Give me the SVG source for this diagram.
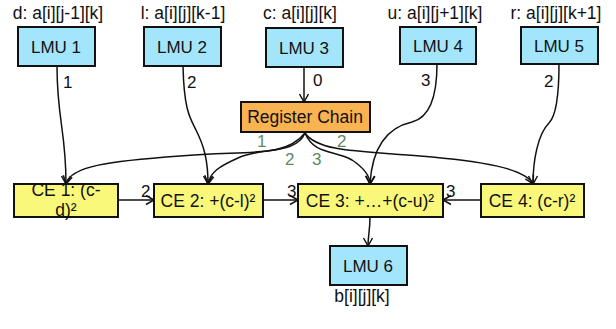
<svg xmlns="http://www.w3.org/2000/svg" width="616" height="329" viewBox="0 0 616 329">
<style>
text{font-family:"Liberation Sans",Arial,sans-serif;font-size:17px;fill:#111}
.lmu{fill:#A3E6FC;stroke:#111;stroke-width:2}
.ce{fill:#FAF87A;stroke:#111;stroke-width:2}
.reg{fill:#F9B451;stroke:#111;stroke-width:2}
.e{fill:none;stroke:#111;stroke-width:1.5;marker-end:url(#arr)}
.g{fill:#5E8A5E}
.m{text-anchor:middle}
.w{font-size:17.5px}
</style>
<defs>
<marker id="arr" markerWidth="12" markerHeight="12" refX="10" refY="6" orient="auto" markerUnits="userSpaceOnUse">
<path d="M2,1.5 L10,6 L2,10.5" fill="none" stroke="#111" stroke-width="1.5"/>
</marker>
</defs>
<rect width="616" height="329" fill="#fff"/>
<g id="connectors">
<path class="e" d="M57,66 C57,120 66,130 66,184"/>
<path class="e" d="M183,66 C184,110 190,118 196,130 C204,146 208,160 208,184"/>
<path class="e" d="M304,67 L304,102"/>
<path class="e" d="M437,64 C437,100 428,118 412,122 C385,128 372,150 370,184"/>
<path class="e" d="M559,64 C559,95 556,116 549,123 C538,134 533,160 533,184"/>
<path class="e" d="M305,133 C285,158 250,150 180,156 C110,161 70,166 66,184"/>
<path class="e" d="M305,133 C296,155 260,147 238,158 C220,166 210,172 208,184"/>
<path class="e" d="M305,133 C314,155 335,150 352,160 C364,168 370,175 370,184"/>
<path class="e" d="M305,133 C318,152 360,151 420,156 C480,161 525,168 533,184"/>
<path class="e" d="M118,200 L154,200"/>
<path class="e" d="M263,200 L298,200"/>
<path class="e" d="M481,200 L443,200"/>
<path class="e" d="M370,217 C370,230 368,236 368,246"/>
<text x="63" y="88">1</text>
<text x="187" y="88">2</text>
<text x="313" y="86">0</text>
<text x="421" y="86">3</text>
<text x="544" y="87">2</text>
<text class="g" x="257" y="147">1</text>
<text class="g" x="285" y="165">2</text>
<text class="g" x="312" y="165">3</text>
<text class="g" x="337" y="147">2</text>
<text x="141" y="197">2</text>
<text x="287" y="197">3</text>
<text x="446" y="197">3</text>
</g>
<g id="lmu1">
<text class="m w" x="58" y="19">d: a[i][j-1][k]</text>
<rect class="lmu" x="18" y="27" width="77" height="39"/>
<text class="m" x="56" y="53">LMU 1</text>
</g>
<g id="lmu2">
<text class="m w" x="183" y="19">l: a[i][j][k-1]</text>
<rect class="lmu" x="144" y="27" width="77" height="39"/>
<text class="m" x="182" y="53">LMU 2</text>
</g>
<g id="lmu3">
<text class="m w" x="300" y="19">c: a[i][j][k]</text>
<rect class="lmu" x="266" y="28" width="77" height="39"/>
<text class="m" x="304" y="54">LMU 3</text>
</g>
<g id="lmu4">
<text class="m w" x="435" y="19">u: a[i][j+1][k]</text>
<rect class="lmu" x="400" y="27" width="76" height="37"/>
<text class="m" x="438" y="52">LMU 4</text>
</g>
<g id="lmu5">
<text class="m w" x="556" y="19">r: a[i][j][k+1]</text>
<rect class="lmu" x="521" y="27" width="77" height="37"/>
<text class="m" x="559" y="52">LMU 5</text>
</g>
<g id="reg">
<rect class="reg" x="241" y="102" width="129" height="30"/>
<text class="m w" x="305" y="123">Register Chain</text>
</g>
<g id="ce1">
<rect class="ce" x="14" y="184" width="104" height="33"/>
<text class="m w" x="66" y="196">CE 1: (c-</text>
<text class="m w" x="66" y="216">d)²</text>
</g>
<g id="ce2">
<rect class="ce" x="154" y="184" width="109" height="33"/>
<text class="m w" x="208" y="207">CE 2: +(c-l)²</text>
</g>
<g id="ce3">
<rect class="ce" x="298" y="184" width="145" height="33"/>
<text class="m w" x="370" y="207">CE 3: +…+(c-u)²</text>
</g>
<g id="ce4">
<rect class="ce" x="481" y="184" width="103" height="33"/>
<text class="m w" x="532" y="207">CE 4: (c-r)²</text>
</g>
<g id="lmu6">
<rect class="lmu" x="330" y="246" width="77" height="39"/>
<text class="m" x="368" y="272">LMU 6</text>
<text class="m w" x="362" y="302">b[i][j][k]</text>
</g>
</svg>
